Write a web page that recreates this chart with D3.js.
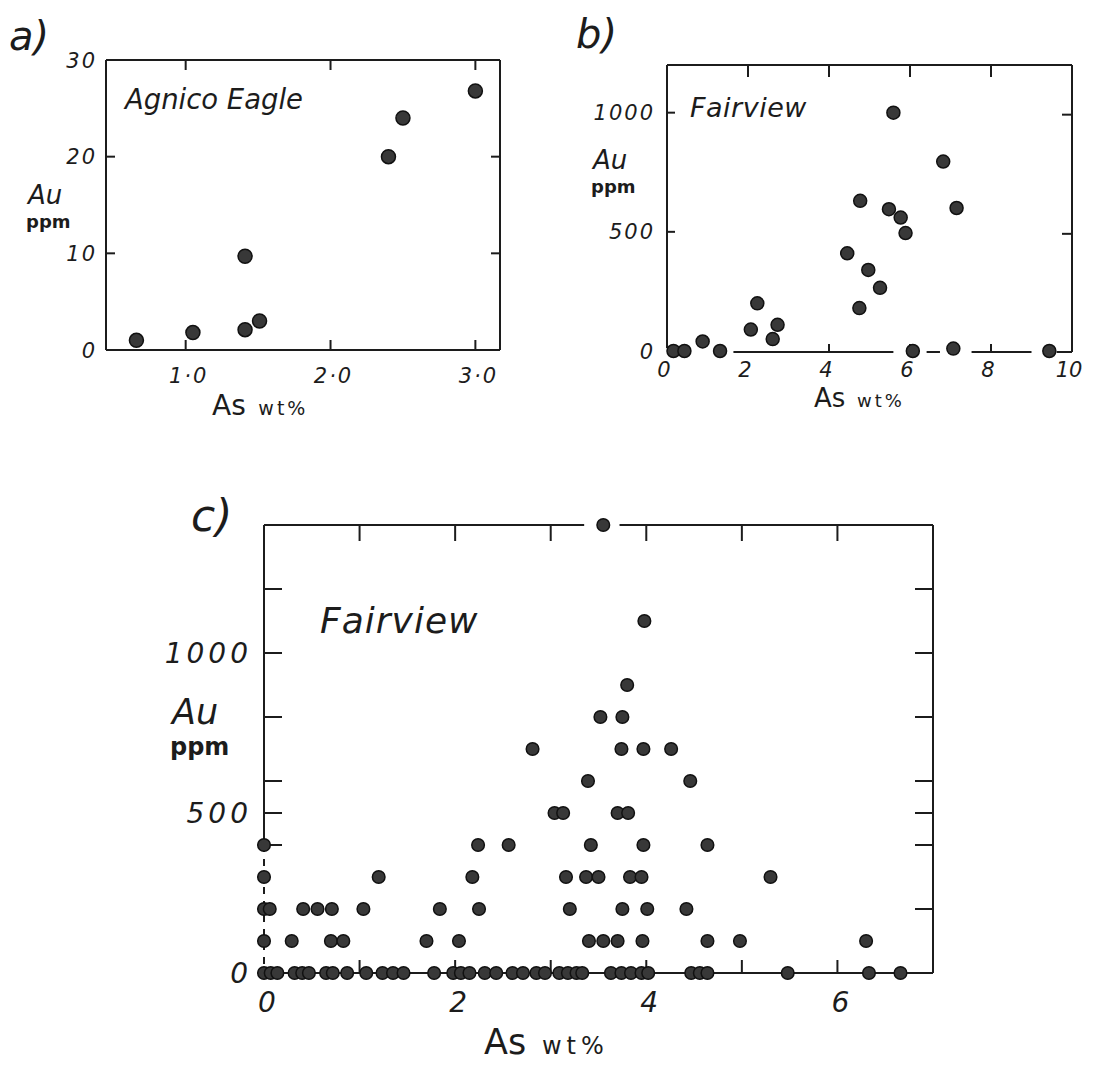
<!DOCTYPE html>
<html>
<head>
<meta charset="utf-8">
<script src="https://cdn.jsdelivr.net/npm/d3@7"></script>
<style>
  body { margin: 0; background: #fff; }
  text { font-family: "DejaVu Sans", "Liberation Sans", sans-serif; fill: #1c1c1c; }
</style>
</head>
<body>
<svg id="fig" width="1108" height="1065"></svg>
<script>
// ---- data ----

// a) Agnico Eagle
var agnicoAs = [0.66, 1.05, 1.41, 1.41, 1.51, 2.40, 2.50, 3.00];
var agnicoAu = [1.0, 1.8, 9.7, 2.1, 3.0, 20.0, 24.0, 26.8];
var agnicoXTicks = [1.0, 2.0, 3.0];
var agnicoYTicks = [0, 10, 20, 30];

// b) Fairview (sample set 1)
var fairAs = [0.16, 0.43, 0.88, 1.31, 2.07, 2.23, 2.61, 2.73, 4.45, 4.77, 4.75,
              4.97, 5.26, 5.59, 5.48, 5.77, 5.89, 6.07, 6.82, 7.07, 7.15, 9.44];
var fairAu = [0, 0, 40, 0, 90, 200, 50, 110, 410, 630, 180,
              340, 265, 1000, 595, 560, 495, 0, 795, 10, 600, 0];
var fairXTicks = [0, 2, 4, 6, 8, 10];
var fairYTicks = [0, 500, 1000];

// c) Fairview (sample set 2) - Au values come in 100 ppm steps
var cAuLevels = [0, 100, 200, 300, 400, 500, 600, 700, 800, 900, 1100, 1400];
var cAsByLevel = [
  [0, 0.07, 0.14, 0.32, 0.40, 0.47, 0.65, 0.72, 0.87, 1.07, 1.24, 1.35, 1.46, 1.78,
   1.98, 2.06, 2.15, 2.31, 2.43, 2.60, 2.71, 2.85, 2.94, 3.09, 3.18, 3.27, 3.33,
   3.63, 3.74, 3.84, 3.95, 4.02, 4.47, 4.56, 4.64, 5.48, 6.33, 6.66],
  [0, 0.29, 0.70, 0.83, 1.70, 2.04, 3.40, 3.55, 3.70, 3.96, 4.64, 4.98, 6.30],
  [0, 0.06, 0.41, 0.56, 0.71, 1.04, 1.84, 2.25, 3.20, 3.75, 4.01, 4.42],
  [0, 1.20, 2.18, 3.16, 3.37, 3.50, 3.83, 3.95, 5.30],
  [0, 2.24, 2.56, 3.42, 3.97, 4.64],
  [3.04, 3.13, 3.70, 3.81],
  [3.39, 4.46],
  [2.81, 3.74, 3.97, 4.26],
  [3.52, 3.75],
  [3.80],
  [3.98],
  [3.55]
];
var cXTicks = [0, 2, 4, 6];
var cYTicks = [0, 500, 1000];

// ---- drawing ----
var svg = d3.select("#fig");
svg.append("rect").attr("width", 1108).attr("height", 1065).attr("fill", "#fff");

var ink = "#1c1c1c";

function seg(g, xa, ya, xb, yb, dash) {
    g.append("line")
        .attr("x1", xa).attr("y1", ya).attr("x2", xb).attr("y2", yb)
        .attr("stroke", ink).attr("stroke-width", 2)
        .attr("stroke-dasharray", dash || null);
}

function txt(g, x, y, s, size, anchor, italic, extra) {
    var t = g.append("text")
        .attr("x", x).attr("y", y)
        .attr("font-size", size)
        .attr("text-anchor", anchor || "start")
        .attr("font-style", italic ? "italic" : "normal")
        .text(s);
    if (extra) extra(t);
    return t;
}

function dots(g, pts, x, y, r) {
    g.selectAll("circle.dot")
        .data(pts)
        .enter()
        .append("circle")
        .attr("class", "dot")
        .attr("cx", function (d) { return x(d[0]); })
        .attr("cy", function (d) { return y(d[1]); })
        .attr("r", r)
        .attr("fill", "#383838")
        .attr("stroke", "#111")
        .attr("stroke-width", 1.5);
}

function axisTitle(g, x, y, big, small, spacing) {
    var t = g.append("text").attr("x", x).attr("y", y);
    t.append("tspan").attr("font-size", big).text("As");
    t.append("tspan").attr("font-size", small).attr("dx", big * 0.45)
        .attr("letter-spacing", spacing).text("wt%");
}

function auTitle(g, x, y, big, small, gap) {
    txt(g, x, y, "Au", big, "start", true);
    txt(g, x - 2, y + gap, "ppm", small, "start", false, function (t) {
        t.attr("font-weight", "bold");
    });
}

// ---------- panel a ----------
(function () {
    var g = svg.append("g");
    var x = d3.scaleLinear().domain([0.45, 3.17]).range([106, 500]);
    var y = d3.scaleLinear().domain([0, 30]).range([350, 60]);
    var l = x.range()[0], r = x.range()[1], b = y.range()[0], t = y.range()[1];

    seg(g, l, t, r, t);
    seg(g, l, t, l, b);
    seg(g, l, b, r, b);
    seg(g, r, t, r, b);

    agnicoXTicks.forEach(function (v) {
        seg(g, x(v), t, x(v), t + 10);
        seg(g, x(v), b, x(v), b - 10);
    });
    agnicoYTicks.slice(1, 3).forEach(function (v) {
        seg(g, l, y(v), l + 9, y(v));
        seg(g, r, y(v), r - 9, y(v));
    });

    dots(g, d3.zip(agnicoAs, agnicoAu), x, y, 7);

    agnicoYTicks.forEach(function (v) {
        txt(g, 97, y(v) + 7.5, String(v), 21, "end", true, function (s) {
            s.attr("letter-spacing", 2);
        });
    });
    agnicoXTicks.forEach(function (v) {
        txt(g, x(v) + 3, 383, d3.format(".1f")(v).replace(".", "\u00b7"), 21, "middle", true,
            function (s) { s.attr("letter-spacing", 2); });
    });

    txt(g, 9, 50, "a)", 40, "start", true);
    txt(g, 125, 109, "Agnico Eagle", 29, "start", true, function (s) {
        s.attr("textLength", 178).attr("lengthAdjust", "spacingAndGlyphs");
    });
    auTitle(g, 28, 204, 26, 18, 24);
    axisTitle(g, 212, 415, 28, 19, 3);
})();

// ---------- panel b ----------
(function () {
    var g = svg.append("g");
    var x = d3.scaleLinear().domain([0, 10]).range([667, 1072]);
    var y = d3.scaleLinear().domain([0, 1200]).range([351, 65]);
    var l = x.range()[0], r = x.range()[1], b = y.range()[0], t = y.range()[1];

    // baseline is broken where points sit on it
    var bBaseSegs = [[1.64, 5.59], [6.41, 6.74], [7.52, 9.0], [9.62, 10]];

    seg(g, l, t, r, t);
    seg(g, l, t, l, b - 3);
    seg(g, r, t, r, b + 1);
    bBaseSegs.forEach(function (s) { seg(g, x(s[0]), b + 1, x(s[1]), b + 1); });

    [2, 4, 6, 8].forEach(function (v) { seg(g, x(v), t, x(v), t + 12); });
    [4, 6, 8].forEach(function (v) { seg(g, x(v), b + 1, x(v), b - 7); });
    [500, 1000].forEach(function (v) {
        seg(g, l, y(v), l + 8, y(v));
        seg(g, r, y(v) + 2, r - 10, y(v) + 2);
    });

    dots(g, d3.zip(fairAs, fairAu), x, y, 6.5);

    fairYTicks.forEach(function (v) {
        txt(g, 655, y(v) + 7.5, String(v), 21, "end", true, function (s) {
            s.attr("letter-spacing", 2);
        });
    });
    fairXTicks.forEach(function (v) {
        txt(g, x(v) - 3, 377, String(v), 21, "middle", true);
    });

    txt(g, 576, 48, "b)", 40, "start", true);
    txt(g, 690, 117, "Fairview", 27, "start", true, function (s) {
        s.attr("letter-spacing", 0.5);
    });
    auTitle(g, 593, 169, 26, 18, 24);
    axisTitle(g, 814, 407, 26, 18, 3);
})();

// ---------- panel c ----------
(function () {
    var g = svg.append("g");
    var x = d3.scaleLinear().domain([0, 7]).range([264, 933]);
    var y = d3.scaleLinear().domain([0, 1400]).range([973, 525]);
    var l = x.range()[0], r = x.range()[1], b = y.range()[0], t = y.range()[1];

    // top line is broken around the off-scale point
    var cTopSegs = [[0, 3.35], [3.72, 7]];
    cTopSegs.forEach(function (s) { seg(g, x(s[0]), t, x(s[1]), t); });
    seg(g, l, t, l, y(400));
    seg(g, l, y(400), l, b, "7,7");
    seg(g, l, b, r, b);
    seg(g, r, t, r, b);

    d3.range(1, 7).forEach(function (v) {
        seg(g, x(v), t, x(v), t + 16);
        seg(g, x(v), b, x(v), b - 13);
    });
    [400, 500, 600, 800, 1000, 1200].forEach(function (v) {
        seg(g, l, y(v), l + 18, y(v));
    });
    [200, 400, 500, 600, 800, 1000, 1200].forEach(function (v) {
        seg(g, r, y(v), r - 18, y(v));
    });

    var pts = [];
    cAuLevels.forEach(function (au, i) {
        cAsByLevel[i].forEach(function (as) { pts.push([as, au]); });
    });
    dots(g, pts, x, y, 6.3);

    cYTicks.forEach(function (v) {
        txt(g, 252, y(v) + 10, String(v), 28, "end", true, function (s) {
            s.attr("letter-spacing", 4);
        });
    });
    cXTicks.forEach(function (v) {
        txt(g, x(v) + 3, 1012, String(v), 28, "middle", true);
    });

    txt(g, 191, 531, "c)", 44, "start", true);
    txt(g, 320, 633, "Fairview", 36, "start", true, function (s) {
        s.attr("letter-spacing", 1);
    });
    auTitle(g, 172, 724, 35, 24, 31);
    axisTitle(g, 484, 1054, 35, 24, 5);
})();
</script>
</body>
</html>
